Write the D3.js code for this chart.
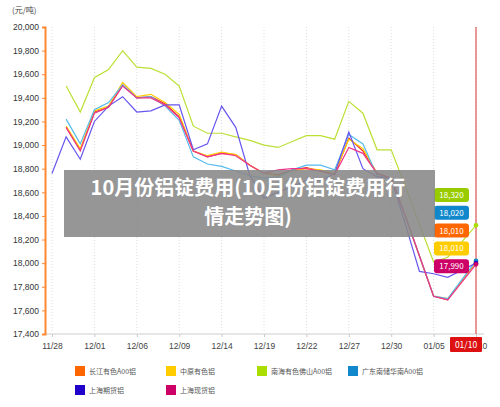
<!DOCTYPE html>
<html><head><meta charset="utf-8">
<script src="https://cdn.jsdelivr.net/npm/d3@7"></script>
<style>body{margin:0;background:#fff;font-family:"Noto Sans CJK SC","Noto Sans",sans-serif;}</style>
</head><body>
<script>
// 31 trading days, label every 3rd
var dates = ["11/28","","","12/01","","","12/06","","","12/09","","","12/14","","","12/19","","","12/22","","","12/27","","","12/30","","","01/05","","","01/10"];
var yTicks = [17400,17600,17800,18000,18200,18400,18600,18800,19000,19200,19400,19600,19800,20000];

var changjiang = [null,19150,18960,19280,19320,19510,19400,19410,19350,19240,18950,18900,18930,18920,18830,18760,18750,18790,18810,18780,18750,19060,18950,18760,18720,18400,18060,17720,17690,17850,18010];
var zhongyuan = [null,19160,18970,19290,19330,19530,19410,19430,19360,19260,18950,18910,18940,18920,18830,18760,18740,18780,18800,18790,18760,19050,18970,18760,18720,18400,18060,17720,17700,17850,18010];
var nanhai = [null,19500,19280,19570,19640,19800,19660,19650,19600,19500,19160,19100,19100,19070,19040,19000,18980,19030,19080,19080,19050,19370,19270,18960,18960,18650,18330,18010,18050,18180,18320];
var guangdong = [null,19220,19010,19300,19360,19510,19400,19410,19330,19210,18900,18840,18820,18780,18740,18720,18730,18790,18830,18830,18790,19090,19010,18740,18720,18400,18060,17720,17700,17860,18020];
var shfe = [18760,19070,18880,19200,19330,19410,19280,19290,19340,19340,18960,19010,19330,19150,18740,18550,18600,18650,18700,18700,18760,19110,18800,18730,18720,18330,17930,17910,17880,17940,18000];
var shspot = [null,19150,18950,19270,19320,19500,19400,19400,19340,19230,18950,18900,18930,18910,18830,18760,18790,18800,18800,18780,18750,18980,18930,18760,18720,18400,18060,17720,17690,17840,17990];

var seriesNames = ["长江有色A00铝","中原有色铝","南海有色佛山A00铝","广东南储华南A00铝","上海期货铝","上海现货铝"];
var seriesData = [changjiang, zhongyuan, nanhai, guangdong, shfe, shspot];
var lineColors = ["#ee3333","#ffcc00","#bbe033","#55bbee","#6655ee","#ee3388"];
var legendColors = ["#ff6600","#ffcc00","#aadd00","#1188cc","#2200cc","#cc0066"];
var lastLabels = ["18,320","18,020","18,010","18,010","17,990"];
var lastColors = ["#99cc00","#1188cc","#ff6600","#ffcc00","#cc0066"];

var W = 500, H = 407;
var svg = d3.select("body").append("svg").attr("width", W).attr("height", H)
  .style("font-family", "\"Noto Sans CJK SC\",sans-serif");

var x = d3.scalePoint().domain(d3.range(dates.length)).range([52, 476]);
var y = d3.scaleLinear().domain([17400, 20000]).range([334, 27]);

svg.append("text").attr("x", 12).attr("y", 13).attr("font-size", 8).attr("fill", "#444").text("(元/吨)");

// vertical dotted grid
dates.forEach(function(d, i){
  if(d === "") return;
  svg.append("line").attr("x1", x(i)).attr("x2", x(i)).attr("y1", 27).attr("y2", 334)
    .attr("stroke", "#ddd").attr("stroke-dasharray", "1,2");
});
svg.append("line").attr("x1", 45).attr("x2", 484).attr("y1", 334).attr("y2", 334).attr("stroke", "#e6e6e6").attr("stroke-width", 2);

var yAxis = svg.append("g").attr("transform", "translate(45,0)")
  .call(d3.axisLeft(y).tickValues(yTicks).tickSize(3).tickFormat(d3.format(",")));
yAxis.select(".domain").attr("stroke", "#ff8833").attr("stroke-width", 2);
yAxis.selectAll(".tick line").attr("stroke", "#ff8833");
yAxis.selectAll("text").attr("font-size", 8.5).attr("fill", "#333").attr("x", -6);

var xAxis = svg.append("g").attr("transform", "translate(0,334)")
  .call(d3.axisBottom(x).tickValues(d3.range(dates.length).filter(function(i){ return dates[i] !== ""; }))
    .tickSize(3).tickFormat(function(i){ return dates[i]; }));
xAxis.select(".domain").remove();
xAxis.selectAll(".tick line").attr("stroke", "#ccc");
xAxis.selectAll("text").attr("font-size", 8.5).attr("fill", "#444").attr("dy", "1.1em");

var line = d3.line().defined(function(d){ return d != null; })
  .x(function(d, i){ return x(i); }).y(function(d){ return y(d); });
seriesData.forEach(function(s, k){
  svg.append("path").datum(s).attr("d", line).attr("fill", "none")
    .attr("stroke", lineColors[k]).attr("stroke-width", 1.2);
});

// crosshair at last day
var lx = x(dates.length - 1);
svg.append("line").attr("x1", lx).attr("x2", lx).attr("y1", 27).attr("y2", 334).attr("stroke", "#e05555").attr("stroke-width", 1.2);
seriesData.forEach(function(s, k){
  svg.append("circle").attr("cx", lx).attr("cy", y(s[s.length - 1])).attr("r", 2.3).attr("fill", legendColors[k]);
});
svg.append("rect").attr("x", lx - 26).attr("y", 337).attr("width", 32).attr("height", 15).attr("rx", 1).attr("fill", "#dd1111");
svg.append("text").attr("x", lx - 10).attr("y", 348).attr("text-anchor", "middle").attr("font-size", 8.5).attr("fill", "#fff").text("01/10");

// last value labels
lastLabels.forEach(function(t, k){
  var yy = 195 + k * 17.8;
  svg.append("rect").attr("x", 434).attr("y", yy - 7).attr("width", 35).attr("height", 14).attr("rx", 3).attr("fill", lastColors[k]);
  svg.append("text").attr("x", 451.5).attr("y", yy + 3).attr("text-anchor", "middle").attr("font-size", 8).attr("fill", "#fff").text(t);
});

// legend
seriesNames.forEach(function(n, k){
  var col = k < 4 ? k : k - 4, row = k < 4 ? 0 : 1;
  var gx = 75 + col * 91, gy = 366 + row * 19;
  svg.append("rect").attr("x", gx).attr("y", gy).attr("width", 10).attr("height", 10).attr("fill", legendColors[k]);
  svg.append("text").attr("x", gx + 14).attr("y", gy + 8).attr("font-size", 7).attr("fill", "#555").text(n);
});

// title overlay
svg.append("rect").attr("x", 64).attr("y", 170).attr("width", 371).attr("height", 67).attr("fill", "#888").attr("opacity", 0.88);
svg.append("text").attr("x", 248).attr("y", 195).attr("text-anchor", "middle").attr("font-size", 20).attr("font-weight", "bold").attr("fill", "#fff").text("10月份铝锭费用(10月份铝锭费用行");
svg.append("text").attr("x", 248).attr("y", 224).attr("text-anchor", "middle").attr("font-size", 20).attr("font-weight", "bold").attr("fill", "#fff").text("情走势图)");
</script>
</body></html>
